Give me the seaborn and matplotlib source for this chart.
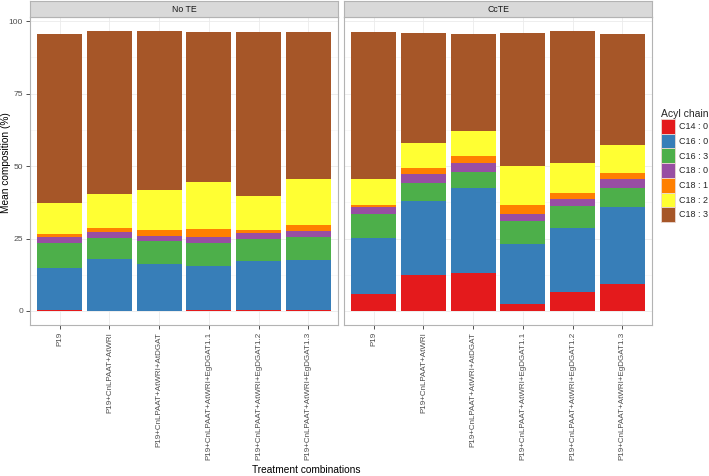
import numpy as np
import pandas as pd
import matplotlib.pyplot as plt
import seaborn as sns
from matplotlib.patches import Patch

# Treatments on the x axis
treatments = ["P19", "P19+CnLPAAT+AtWRI", "P19+CnLPAAT+AtWRI+AtDGAT",
              "P19+CnLPAAT+AtWRI+EgDGAT1.1", "P19+CnLPAAT+AtWRI+EgDGAT1.2",
              "P19+CnLPAAT+AtWRI+EgDGAT1.3"]
panels = ["No TE", "CcTE"]
chains = ["C14 : 0", "C16 : 0", "C16 : 3", "C18 : 0", "C18 : 1", "C18 : 2", "C18 : 3"]
colors = ["#E41A1C", "#377EB8", "#4DAF4A", "#984EA3", "#FF7F00", "#FFFF33", "#A65628"]

# No TE panel (mean % per acyl chain)
no_te_c14_0 = [0.4, 0.0, 0.0, 0.4, 0.3, 0.3]
no_te_c16_0 = [14.5, 17.8, 16.1, 15.2, 17.0, 17.3]
no_te_c16_3 = [8.4, 7.3, 8.1, 7.8, 7.5, 7.9]
no_te_c18_0 = [2.1, 2.1, 1.8, 2.0, 2.0, 2.0]
no_te_c18_1 = [1.0, 1.4, 2.0, 3.0, 1.0, 2.0]
no_te_c18_2 = [11.0, 11.6, 13.6, 16.2, 11.9, 16.0]
no_te_c18_3 = [58.3, 56.3, 54.8, 51.5, 56.6, 50.8]

# CcTE panel
cc_te_c14_0 = [6.0, 12.5, 13.0, 2.5, 6.4, 9.2]
cc_te_c16_0 = [19.3, 25.6, 29.3, 20.5, 22.1, 26.6]
cc_te_c16_3 = [8.0, 6.2, 5.6, 7.9, 7.6, 6.5]
cc_te_c18_0 = [2.5, 3.0, 3.1, 2.4, 2.7, 3.2]
cc_te_c18_1 = [0.8, 1.9, 2.5, 3.3, 1.8, 2.2]
cc_te_c18_2 = [9.0, 8.7, 8.7, 13.3, 10.5, 9.7]
cc_te_c18_3 = [50.7, 38.1, 33.3, 46.1, 45.3, 38.3]

panel_data = {
    "No TE": [no_te_c14_0, no_te_c16_0, no_te_c16_3, no_te_c18_0,
              no_te_c18_1, no_te_c18_2, no_te_c18_3],
    "CcTE": [cc_te_c14_0, cc_te_c16_0, cc_te_c16_3, cc_te_c18_0,
             cc_te_c18_1, cc_te_c18_2, cc_te_c18_3],
}

sns.set_theme(style="white")
plt.rcParams["font.family"] = ["Liberation Sans", "DejaVu Sans"]

W, H = 709, 476
fig = plt.figure(figsize=(W / 100, H / 100), dpi=100)

panel_left = [30, 344]
panel_w = 308
panel_top, panel_bot = 17, 325
strip_top = 1

for i, name in enumerate(panels):
    x0 = panel_left[i]
    ax = fig.add_axes([x0 / W, 1 - panel_bot / H, panel_w / W, (panel_bot - panel_top) / H])
    strip = fig.add_axes([x0 / W, 1 - panel_top / H, panel_w / W, (panel_top - strip_top) / H])

    vals = np.array(panel_data[name])
    cum = vals.cumsum(axis=0)
    # draw stacked bars from the top layer down
    for k in range(len(chains) - 1, -1, -1):
        df = pd.DataFrame({"treatment": treatments, "value": cum[k]})
        sns.barplot(data=df, x="treatment", y="value", order=treatments,
                    color=colors[k], saturation=1, width=0.9, errorbar=None,
                    linewidth=0, ax=ax, zorder=2)

    ax.set_xlim(-0.6, 5.6)
    ax.set_ylim(-4.83, 101.4)
    ax.set_yticks([0, 25, 50, 75, 100])
    ax.set_yticks([12.5, 37.5, 62.5, 87.5], minor=True)
    ax.grid(True, which="major", color="#EBEBEB", linewidth=0.6, zorder=0)
    ax.grid(True, which="minor", axis="y", color="#F4F4F4", linewidth=0.4, zorder=0)
    ax.set_axisbelow(True)
    ax.set_xlabel("")
    ax.set_ylabel("")
    ax.tick_params(axis="both", which="major", length=3, width=0.6, color="#333333",
                   labelsize=5.8, labelcolor="#4D4D4D", pad=2, bottom=True, left=True)
    ax.tick_params(axis="y", labelsize=6.1)
    ax.tick_params(axis="both", which="minor", length=0)
    ax.set_xticks(range(len(treatments)))
    ax.set_xticklabels(treatments, rotation=90, ha="center", va="top")
    if i == 1:
        ax.tick_params(axis="y", labelleft=False, left=False)
    for sp in ax.spines.values():
        sp.set_color("#B3B3B3")
        sp.set_linewidth(0.8)

    strip.set_facecolor("#D9D9D9")
    strip.set_xticks([])
    strip.set_yticks([])
    for sp in strip.spines.values():
        sp.set_color("#B3B3B3")
        sp.set_linewidth(0.8)
    strip.text(0.5, 0.5, name, ha="center", va="center", fontsize=6.3,
               color="#1A1A1A", transform=strip.transAxes)

fig.text(6 / W, 1 - 163 / H, "Mean composition (%)", rotation=90, ha="center",
         va="center", fontsize=7.3, color="#000000")
fig.text(306 / W, 1 - 470 / H, "Treatment combinations", ha="center", va="center",
         fontsize=7.3, color="#000000")

handles = [Patch(facecolor=c, edgecolor="#EAD8D2", linewidth=0.6) for c in colors]
leg = fig.legend(handles, chains, title="Acyl chain", loc="upper left",
                 bbox_to_anchor=(661 / W, 1 - 109 / H), frameon=False,
                 handlelength=1.55, handleheight=2.13, labelspacing=0.0,
                 handletextpad=0.4, borderaxespad=0, borderpad=0,
                 fontsize=6.5, title_fontsize=7.5)
leg._legend_box.align = "left"

fig.savefig("out.png", dpi=100)
